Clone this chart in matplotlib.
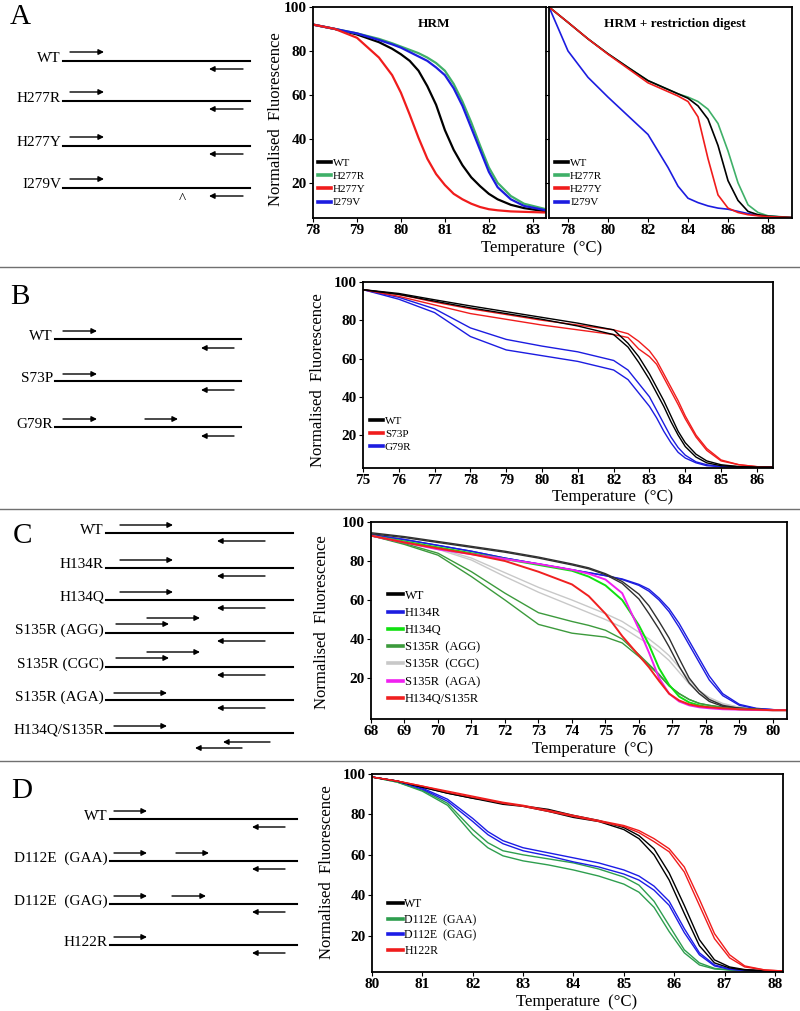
import numpy as np
import matplotlib.pyplot as plt

plt.rcParams['font.family'] = ['Liberation Serif', 'DejaVu Serif']

W, H = 800, 1011

# ---------------- dados ----------------
# Painel A - HRM
temp_a1 = [78, 78.5, 79, 79.5, 79.8, 80, 80.2, 80.4, 80.6, 80.8, 81, 81.2, 81.4, 81.6, 81.8, 82, 82.2, 82.5, 82.8, 83.3]
wt_a1 = [92, 90, 87.5, 84, 81, 78.5, 75.5, 71, 64, 55.5, 44, 35, 28, 22.5, 18.5, 15, 12.5, 10, 8.5, 7]
h277r_a1 = [92, 90, 88, 85.5, 83.5, 82, 80.5, 79, 77, 74.5, 71, 65, 57, 47.5, 37, 27, 20, 14, 10.5, 8]
h277y_a1 = [92, 90, 86, 77, 69, 61, 51, 40.5, 31, 24, 19, 15, 12.5, 10.5, 9, 8, 7.5, 7, 6.8, 6.5]
i279v_a1 = [92, 90, 88, 85, 83, 81.5, 79.5, 77.5, 75.5, 72.5, 69, 63, 55, 45, 35, 25, 18, 12.5, 9.5, 7.5]

# Painel A - HRM + digestao
temp_a2 = [77.05, 78, 79, 80, 81, 82, 83, 83.5, 84, 84.5, 85, 85.5, 86, 86.5, 87, 87.5, 88, 89.2]
wt_a2 = [100, 93, 85.5, 78.7, 72.5, 66.5, 62.5, 60.5, 58.5, 55, 49, 37, 21, 12, 7, 5.5, 4.8, 4.2]
h277r_a2 = [100, 93, 85.5, 78.7, 72.5, 66.5, 62.5, 60.5, 59, 57, 53.5, 47, 34.5, 20, 10, 6.5, 5, 4.2]
h277y_a2 = [100, 93, 85.5, 78.5, 72, 65.5, 61.5, 59.5, 57, 50, 31, 14.5, 8.5, 6.5, 5.5, 5, 4.6, 4.2]
i279v_a2 = [100, 80, 68, 59, 50.5, 42, 27, 18.5, 13, 11, 9.5, 8.5, 8, 7, 6, 5.2, 4.8, 4.2]

# Painel B (duas replicatas por genotipo)
temp_b = [75, 76, 77, 78, 79, 80, 81, 82, 82.4, 82.7, 83.0, 83.2, 83.4, 83.6, 83.8, 84.0, 84.3, 84.6, 85.0, 85.5, 86.0, 86.45]
wt_b = [[96, 94, 90.7, 87.5, 84.5, 81.5, 78.5, 75, 68, 61, 52, 45, 38, 30, 22, 16, 10, 6.5, 4.5, 3.5, 3.2, 3.2],
        [96, 93.5, 90, 86.5, 83.5, 80.5, 77, 72.5, 66, 58, 49, 42, 35, 27, 20, 14, 8.5, 5.5, 4, 3.5, 3.2, 3.2]]
s73p_b = [[96, 93.5, 89.5, 86, 83, 80, 77.5, 75, 73, 69, 64, 59, 52, 45, 38, 30, 20, 13, 7, 4.5, 3.5, 3.2],
          [96, 92.5, 88, 83.5, 80.5, 77.5, 75, 72.5, 71, 65, 61, 57, 50, 43, 36, 28.5, 19, 12, 6.5, 4.5, 3.5, 3.2]]
g79r_b = [[96, 92, 86, 76, 70, 66.5, 63.5, 59, 54, 47, 40, 33, 26, 19, 13.5, 9.5, 6, 4.5, 3.5, 3.2, 3.2, 3.2],
          [96, 91, 84, 71.5, 64.5, 61.5, 58.5, 54, 49, 42, 35, 29, 22, 16, 11, 8, 5.5, 4, 3.5, 3.2, 3.2, 3.2]]

# Painel C
temp_c = [68, 69, 70, 71, 72, 73, 74, 74.5, 75, 75.5, 76, 76.3, 76.6, 76.9, 77.2, 77.5, 77.8, 78.1, 78.5, 79, 79.5, 80, 80.42]
wt_c = [[94, 92, 89.5, 87, 84.5, 81.5, 78, 76, 73, 68.5, 60.5, 53, 45, 36, 26, 17.5, 12, 8, 5.5, 4.5, 4, 3.5, 3.5],
        [94.5, 92.5, 90, 87.5, 85, 82, 78.5, 76.5, 73.5, 69.5, 63, 57, 49, 40.5, 30, 20, 13.5, 9, 6, 4.5, 4, 3.5, 3.5]]
h134r_c = [[93.5, 91, 88, 85, 81.5, 78.5, 75.5, 74, 72.5, 70.5, 67.5, 64.5, 60, 54, 46, 37, 28, 19, 11, 6, 4.3, 3.8, 3.5],
           [93.5, 91, 88, 85, 81.5, 78.5, 75.5, 74, 72.5, 70.8, 68, 65.5, 61, 55.5, 48, 39, 30, 21, 12, 6.5, 4.5, 3.8, 3.5]]
h134q_c = [[93, 90, 87, 84, 81, 78, 75, 72, 67.5, 60, 47, 37, 25, 16.5, 10.5, 7.5, 6, 5, 4.5, 4, 3.8, 3.5, 3.5]]
agg_c = [[93, 89, 84, 74.5, 63.5, 53.5, 49, 47, 44.5, 40, 32, 27, 22, 16, 12, 9, 7, 6, 5, 4.5, 4, 3.5, 3.5],
         [93, 88.5, 83, 72, 60, 47.5, 43, 42, 41, 38, 31, 26.5, 21.5, 16, 12, 9, 7, 6, 5, 4.5, 4, 3.5, 3.5]]
cgc_c = [[93.5, 90.5, 86.5, 81.5, 74, 66.5, 60, 56.5, 53, 49, 43.5, 40, 36, 31.5, 25.5, 19, 13.5, 10, 7, 5, 4.2, 3.8, 3.5],
         [93.5, 90, 86, 80.5, 72, 64, 57, 53.5, 50, 46, 40.5, 37.5, 33.5, 29, 23, 17, 12, 9, 6.5, 5, 4.2, 3.8, 3.5]]
aga_c = [[93, 89.5, 86, 83.5, 81, 78.5, 75.5, 73.5, 70.5, 63.5, 45, 33, 20, 12, 8, 6, 5, 4.5, 4, 3.8, 3.6, 3.5, 3.5]]
dupla_c = [[93, 89.5, 86.5, 83.5, 80, 74.5, 68, 62, 53, 41.5, 31.5, 25.5, 18.5, 12, 8.5, 6.5, 5.5, 5, 4.5, 4, 3.8, 3.5, 3.5]]

# Painel D
temp_d = [80, 80.5, 81, 81.5, 82, 82.3, 82.6, 83, 83.5, 84, 84.5, 85, 85.3, 85.6, 85.9, 86.2, 86.5, 86.8, 87.1, 87.4, 87.8, 88.16]
wt_d = [[98.5, 96.5, 93.5, 90.5, 88, 87, 85.5, 84.2, 82.5, 79.5, 77, 73.5, 69.5, 63, 51, 35, 18, 8, 4.5, 3.2, 2.7, 2.5],
        [98.5, 96.5, 93.5, 90.5, 88, 86.5, 85, 84, 81.5, 78.5, 76.5, 72.5, 68, 60, 47.5, 31, 15, 6.5, 4, 3, 2.6, 2.5]]
gaa_d = [[98.5, 96, 92, 85.5, 72.5, 66, 62, 60, 58, 56, 53, 49, 45, 37, 25, 13, 6.5, 3.8, 3, 2.7, 2.5, 2.5],
         [98.5, 96, 91.5, 84.5, 70, 63.5, 59.5, 57, 55, 52.5, 49.5, 45.5, 41.5, 34, 22, 11.5, 5.5, 3.5, 3, 2.7, 2.5, 2.5]]
gag_d = [[98.5, 96.5, 93, 87.5, 78, 71.5, 67, 63.5, 61, 58.5, 56, 52.5, 49.5, 44.5, 37, 23.5, 11.5, 5.5, 3.5, 2.8, 2.5, 2.5],
         [98.5, 96.5, 92.5, 86.5, 76.5, 70, 65.5, 62, 59.5, 56.5, 54, 50.5, 47.5, 42.5, 35, 21.5, 10.5, 5, 3.3, 2.8, 2.5, 2.5]]
h122r_d = [[98.5, 96.5, 94, 91.5, 89, 87.5, 86, 84.5, 82, 79.5, 77, 74.5, 72, 68, 63, 54, 38, 21, 10.5, 5, 3, 2.5],
           [98.5, 96.5, 94, 91, 88.5, 87, 85.5, 84, 81.5, 79, 76.5, 74, 71, 66.5, 61.5, 51.5, 35, 18.5, 9, 4.5, 3, 2.5]]


# ---------------- figura ----------------
fig = plt.figure(figsize=(W / 100, H / 100), dpi=100)


def caixa(x0, y0, x1, y1):
    # converte pixels (origem no topo) para fracao da figura
    return [x0 / W, 1 - y1 / H, (x1 - x0) / W, (y1 - y0) / H]


def formata(ax, xlim, xticks, ylim, ylabels=True):
    ax.set_xlim(xlim)
    ax.set_ylim(ylim)
    ax.set_xticks(xticks)
    ax.set_yticks([20, 40, 60, 80, 100])
    ax.tick_params(direction='out', length=3, width=0.8, labelsize=11, pad=1.5)
    if not ylabels:
        ax.set_yticklabels([])
    plt.setp(ax.get_xticklabels() + ax.get_yticklabels(), fontweight='bold')
    for s in ax.spines.values():
        s.set_linewidth(1.3)


def rotulo_y(ax, x, y):
    ax.set_ylabel('Normalised  Fluorescence', fontsize=12)
    ax.yaxis.set_label_coords(x, y)


def legenda(ax, nomes, cores, x, y, tam=8, esp=0.3):
    hs = [plt.Line2D([], [], color=c, lw=2.6) for c in cores]
    ax.legend(hs, nomes, loc='lower left', bbox_to_anchor=(x, y), frameon=False,
              fontsize=tam, handlelength=1.2, handletextpad=0.15, labelspacing=esp,
              borderpad=0, borderaxespad=0)


def curvas(ax, temp, reps, cor, lw=1.0):
    for r in reps:
        ax.plot(temp, r, color=cor, lw=lw)


# --- A: HRM
axA1 = fig.add_axes(caixa(313, 7, 546, 218))
cores_a = ['black', '#3fb068', '#f01c1c', '#1c1ce0']
nomes_a = ['WT', 'H277R', 'H277Y', 'I279V']
for serie, cor in zip([wt_a1, h277r_a1, i279v_a1, h277y_a1], ['black', '#3fb068', '#1c1ce0', '#f01c1c']):
    axA1.plot(temp_a1, serie, color=cor, lw=1.6)
formata(axA1, (78, 83.3), [78, 79, 80, 81, 82, 83], (4, 100))
rotulo_y(axA1, -0.125, 0.47)
axA1.text(0.52, 0.92, 'HRM', transform=axA1.transAxes, ha='center', va='center',
          fontsize=9.5, fontweight='bold')
legenda(axA1, nomes_a, cores_a, 0.02, 0.05)

# --- A: HRM + digestao
axA2 = fig.add_axes(caixa(549, 7, 792, 218))
for serie, cor in zip([i279v_a2, h277r_a2, wt_a2, h277y_a2], ['#1c1ce0', '#3fb068', 'black', '#f01c1c']):
    axA2.plot(temp_a2, serie, color=cor, lw=1.2)
formata(axA2, (77.05, 89.2), [78, 80, 82, 84, 86, 88], (4, 100), ylabels=False)
axA2.text(0.52, 0.92, 'HRM + restriction digest', transform=axA2.transAxes, ha='center',
          va='center', fontsize=9.5, fontweight='bold')
legenda(axA2, nomes_a, cores_a, 0.025, 0.05)
fig.text(542 / W, 1 - 248 / H, 'Temperature  (°C)', ha='center', va='center', fontsize=12)

# --- B
axB = fig.add_axes(caixa(363, 282, 773, 468))
curvas(axB, temp_b, g79r_b, '#1c1ce0')
curvas(axB, temp_b, s73p_b, '#f01c1c')
curvas(axB, temp_b, wt_b, 'black')
formata(axB, (75, 86.45), list(range(75, 87)), (2.8, 100))
rotulo_y(axB, -0.09, 0.47)
legenda(axB, ['WT', 'S73P', 'G79R'], ['black', '#f01c1c', '#1c1ce0'], 0.017, 0.085)
fig.text(613 / W, 1 - 497 / H, 'Temperature  (°C)', ha='center', va='center', fontsize=12)

# --- C
axC = fig.add_axes(caixa(371, 522, 787, 719))
curvas(axC, temp_c, cgc_c, '#c8c8c8')
curvas(axC, temp_c, agg_c, '#3c9a3c')
curvas(axC, temp_c, h134r_c, '#1c1ce0')
curvas(axC, temp_c, wt_c, '#303030')
curvas(axC, temp_c, h134q_c, '#10e010', lw=1.4)
curvas(axC, temp_c, aga_c, '#f020f0', lw=1.4)
curvas(axC, temp_c, dupla_c, '#f02020', lw=1.4)
formata(axC, (68, 80.42), list(range(68, 81)), (-1, 100))
rotulo_y(axC, -0.098, 0.49)
nomes_c = ['WT', 'H134R', 'H134Q', 'S135R  (AGG)', 'S135R  (CGC)', 'S135R  (AGA)', 'H134Q/S135R']
cores_c = ['black', '#1c1ce0', '#10e010', '#3c9a3c', '#c8c8c8', '#f020f0', '#f02020']
legenda(axC, nomes_c, cores_c, 0.04, 0.07, tam=9, esp=0.42)
fig.text(593 / W, 1 - 749 / H, 'Temperature  (°C)', ha='center', va='center', fontsize=12)

# --- D
axD = fig.add_axes(caixa(372, 774, 783, 972))
curvas(axD, temp_d, gaa_d, '#2e9e4e')
curvas(axD, temp_d, gag_d, '#1c1ce6')
curvas(axD, temp_d, wt_d, 'black')
curvas(axD, temp_d, h122r_d, '#f01c1c')
formata(axD, (80, 88.16), list(range(80, 89)), (2, 100))
rotulo_y(axD, -0.09, 0.505)
legenda(axD, ['WT', 'D112E  (GAA)', 'D112E  (GAG)', 'H122R'],
        ['black', '#2e9e4e', '#1c1ce6', '#f01c1c'], 0.04, 0.076, tam=8.5, esp=0.3)
fig.text(577 / W, 1 - 1002 / H, 'Temperature  (°C)', ha='center', va='center', fontsize=12)

# ---------------- esquemas dos primers ----------------
ax0 = fig.add_axes([0, 0, 1, 1], zorder=-1)
ax0.set_xlim(0, W)
ax0.set_ylim(H, 0)
ax0.axis('off')


def seta(x0, x1, y):
    ax0.annotate('', xy=(x1, y), xytext=(x0, y),
                 arrowprops=dict(arrowstyle='-|>', color='black', lw=1.0,
                                 mutation_scale=8, shrinkA=0, shrinkB=0))


def esquema(rotulos, ys, xl0, xl1, fwd, rev, tam=11):
    for i, (rot, y) in enumerate(zip(rotulos, ys)):
        ax0.plot([xl0, xl1], [y, y], color='black', lw=1.5)
        ax0.text(xl0 - 2, y - 3, rot, ha='right', va='center', fontsize=tam)
        for (a, b, dy) in fwd[i]:
            seta(a, b, y + dy)
        for (a, b, dy) in rev[i]:
            seta(a, b, y + dy)


# A
esquema(['WT', 'H277R', 'H277Y', 'I279V'], [61, 101, 146, 188], 63, 250,
        [[(70, 104, -9)]] * 4, [[(243, 209, 8)]] * 4)
ax0.text(182, 199, '^', ha='center', va='center', fontsize=11)
# B
esquema(['WT', 'S73P', 'G79R'], [339, 381, 427], 55, 241,
        [[(63, 97, -8)], [(63, 97, -7)], [(63, 97, -8), (145, 178, -8)]],
        [[(234, 201, 9)]] * 3)
# C
fwd_c = [[(120, 173, -8)], [(120, 173, -8)], [(120, 173, -8)],
         [(116, 169, -9), (147, 200, -15)], [(116, 169, -9), (147, 200, -15)],
         [(114, 167, -7)], [(114, 167, -7)]]
rev_c = [[(265, 217, 8)]] * 6 + [[(270, 223, 9), (242, 195, 15)]]
esquema(['WT', 'H134R', 'H134Q', 'S135R (AGG)', 'S135R (CGC)', 'S135R (AGA)', 'H134Q/S135R'],
        [533, 568, 600, 633, 667, 700, 733], 106, 293, fwd_c, rev_c, tam=11)
# D
esquema(['WT', 'D112E  (GAA)', 'D112E  (GAG)', 'H122R'], [819, 861, 904, 945], 110, 297,
        [[(114, 147, -8)], [(114, 147, -8), (176, 209, -8)], [(114, 147, -8), (172, 206, -8)],
         [(114, 147, -8)]],
        [[(285, 252, 8)]] * 4, tam=11)

# letras dos paineis
for letra, (x, y) in zip('ABCD', [(20, 17), (20, 297), (22, 536), (22, 791)]):
    ax0.text(x, y, letra, ha='center', va='center', fontsize=21)

# linhas separadoras
for y in [267, 509, 761]:
    ax0.plot([0, W], [y, y], color='#707070', lw=1.0)

fig.savefig('out.png', dpi=100)
